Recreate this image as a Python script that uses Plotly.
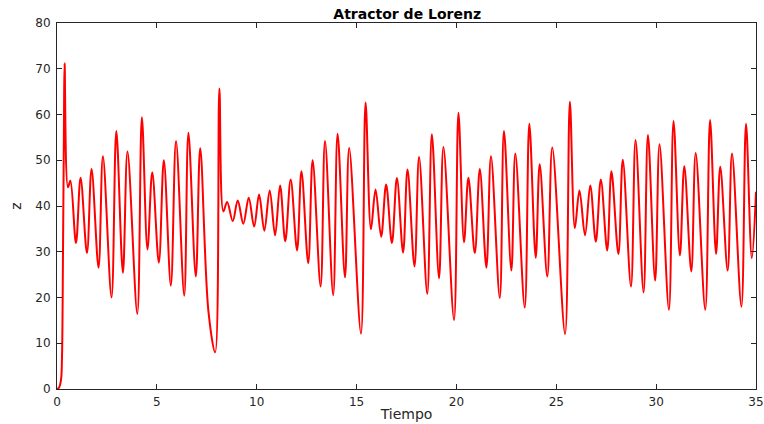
import plotly.graph_objects as go

# Time (s) and z values (extrema and key points)
tiempo = [0.0, 0.1, 0.2, 0.25, 0.3, 0.35, 0.38, 0.55, 0.67, 0.95, 1.18, 1.5, 1.73, 2.08, 2.3,
          2.73, 2.97, 3.3, 3.53, 4.02, 4.25, 4.53, 4.77, 5.1, 5.35, 5.7, 5.96,
          6.37, 6.58, 6.95, 7.17, 7.58, 7.92, 8.13, 8.33, 8.52, 8.8, 9.05, 9.33, 9.6,
          9.87, 10.12, 10.38, 10.65, 10.92, 11.17, 11.43, 11.7, 12.02, 12.24,
          12.58, 12.8, 13.2, 13.42, 13.83, 14.05, 14.42, 14.63, 15.22, 15.45, 15.72,
          15.95, 16.23, 16.48, 16.77, 17.02, 17.33, 17.55, 17.9, 18.13, 18.54,
          18.77, 19.13, 19.35, 19.88, 20.1, 20.38, 20.6, 20.92, 21.17, 21.5, 21.73,
          22.17, 22.38, 22.75, 22.95, 23.42, 23.65, 23.97, 24.17, 24.55, 24.8,
          25.44, 25.68, 25.93, 26.16, 26.44, 26.7, 26.98, 27.23, 27.55, 27.76,
          28.11, 28.33, 28.74, 28.97, 29.37, 29.59, 29.95, 30.17, 30.64, 30.87,
          31.19, 31.41, 31.76, 31.98, 32.46, 32.7, 33.0, 33.21, 33.58, 33.8,
          34.27, 34.5, 34.79, 35.0]
z_vals = [0.0, 0.3, 2.0, 7.0, 29.6, 58.8, 71.2, 44.1, 45.5, 31.9, 46.2, 29.7, 48.1, 26.5, 50.9,
          20.0, 56.4, 25.4, 51.9, 16.4, 59.4, 30.5, 47.4, 27.6, 50.0, 22.6, 54.2,
          20.4, 56.0, 24.6, 52.6, 17.1, 8.0, 65.7, 38.8, 40.9, 36.7, 41.2, 36.1, 41.8,
          35.5, 42.5, 34.6, 43.4, 33.6, 44.5, 32.3, 45.8, 30.3, 47.6,
          27.5, 50.0, 22.4, 54.2, 20.5, 55.8, 24.4, 52.7, 12.1, 62.6, 34.9,
          43.6, 33.3, 44.7, 31.9, 46.1, 29.8, 48.0, 26.8, 50.7, 20.8,
          55.7, 24.2, 52.9, 15.1, 60.4, 32.1, 46.2, 29.7, 48.1, 26.5, 50.9,
          19.9, 56.4, 25.9, 51.5, 17.8, 58.0, 28.7, 49.1, 24.6, 52.8,
          12.0, 62.8, 35.2, 43.4, 33.6, 44.5, 32.2, 45.8, 30.3, 47.6,
          29.5, 50.1, 22.4, 54.4, 21.1, 55.5, 23.7, 53.5, 17.3, 58.6,
          29.2, 48.7, 25.7, 51.6, 17.3, 58.8, 29.5, 48.6, 25.9, 51.5,
          18.0, 58.0, 28.6, 43.1]

x_ticks = [0, 5, 10, 15, 20, 25, 30, 35]
y_ticks = [0, 10, 20, 30, 40, 50, 60, 70, 80]

FONT = "DejaVu Sans"

fig = go.Figure()
fig.add_trace(go.Scatter(x=tiempo, y=z_vals, mode="lines",
                         line=dict(color="#ff0000", width=2, shape="spline", smoothing=1.0),
                         showlegend=False))

axis_common = dict(showgrid=False, zeroline=False, showline=True, linecolor="#262626",
                   linewidth=1, mirror="allticks", ticks="inside", ticklen=5,
                   tickcolor="#262626", automargin=False,
                   tickfont=dict(size=12, color="#262626", family=FONT))

fig.update_layout(
    width=764, height=424,
    margin=dict(l=57, r=8, t=23, b=35),
    paper_bgcolor="white", plot_bgcolor="white",
    font=dict(family=FONT, color="#262626"),
    title=dict(text="<b>Atractor de Lorenz</b>", x=0.533, xanchor="center",
               y=0.967, yanchor="middle", yref="container",
               font=dict(size=14, color="black", family=FONT)),
    xaxis=dict(range=[0, 35], tickvals=x_ticks, ticklabelstandoff=2,
               title=dict(text="Tiempo", standoff=0, font=dict(size=14, family=FONT)),
               **axis_common),
    yaxis=dict(range=[0, 80], tickvals=y_ticks, ticklabelstandoff=3,
               title=dict(text="z", standoff=10, font=dict(size=14, family=FONT)),
               **axis_common),
)

fig.write_html("out.html")
